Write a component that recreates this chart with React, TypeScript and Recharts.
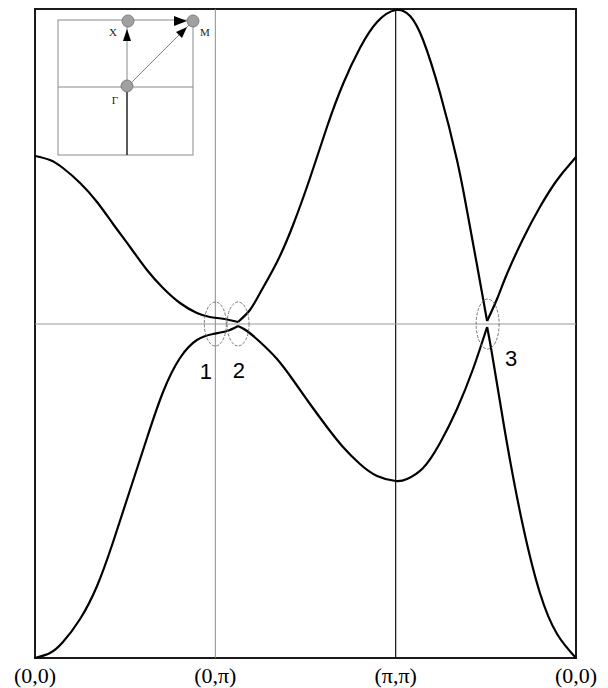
import React from "react";
import { LineChart, Line, XAxis, YAxis, ReferenceLine, ReferenceArea, ReferenceDot } from "recharts";

// k-path positions and labels
const kTicks = [0, 1, 2, 3];
const kLabels = ["(0,0)", "(0,π)", "(π,π)", "(0,0)"];
const energyDomain = [-3.34, 3.15];

// Upper band, split at its kinks
const upperA = [
  { k: 0, e: 1.68 }, { k: 0.083, e: 1.64 }, { k: 0.155, e: 1.56 }, { k: 0.25, e: 1.41 },
  { k: 0.344, e: 1.22 }, { k: 0.433, e: 1.0 }, { k: 0.527, e: 0.77 }, { k: 0.621, e: 0.54 },
  { k: 0.71, e: 0.36 }, { k: 0.804, e: 0.21 }, { k: 0.898, e: 0.11 }, { k: 0.97, e: 0.07 },
  { k: 1.05, e: 0.05 }, { k: 1.126, e: 0.02 },
];
const upperB = [
  { k: 1.126, e: 0.02 }, { k: 1.192, e: 0.14 }, { k: 1.248, e: 0.31 }, { k: 1.342, e: 0.62 },
  { k: 1.431, e: 0.99 }, { k: 1.525, e: 1.46 }, { k: 1.619, e: 1.97 }, { k: 1.708, e: 2.4 },
  { k: 1.802, e: 2.76 }, { k: 1.897, e: 3.02 }, { k: 2.0, e: 3.14 }, { k: 2.08, e: 3.08 },
  { k: 2.152, e: 2.84 }, { k: 2.246, e: 2.31 }, { k: 2.34, e: 1.64 }, { k: 2.396, e: 1.13 },
  { k: 2.451, e: 0.59 }, { k: 2.507, e: 0.03 },
];
const upperC = [
  { k: 2.507, e: 0.03 }, { k: 2.562, e: 0.25 }, { k: 2.617, e: 0.5 }, { k: 2.706, e: 0.85 },
  { k: 2.8, e: 1.17 }, { k: 2.895, e: 1.44 }, { k: 2.967, e: 1.6 }, { k: 3.0, e: 1.67 },
];

// Lower band, split at its kinks
const lowerA = [
  { k: 0, e: -3.34 }, { k: 0.083, e: -3.29 }, { k: 0.155, e: -3.18 }, { k: 0.25, e: -2.95 },
  { k: 0.344, e: -2.62 }, { k: 0.433, e: -2.18 }, { k: 0.527, e: -1.66 }, { k: 0.621, e: -1.14 },
  { k: 0.71, e: -0.68 }, { k: 0.804, e: -0.34 }, { k: 0.898, e: -0.16 }, { k: 0.987, e: -0.1 },
  { k: 1.065, e: -0.07 }, { k: 1.126, e: -0.02 },
];
const lowerB = [
  { k: 1.126, e: -0.02 }, { k: 1.176, e: -0.07 }, { k: 1.248, e: -0.18 }, { k: 1.342, e: -0.35 },
  { k: 1.431, e: -0.56 }, { k: 1.525, e: -0.8 }, { k: 1.619, e: -1.03 }, { k: 1.708, e: -1.23 },
  { k: 1.802, e: -1.4 }, { k: 1.897, e: -1.52 }, { k: 2.0, e: -1.57 }, { k: 2.063, e: -1.55 },
  { k: 2.152, e: -1.44 }, { k: 2.246, e: -1.19 }, { k: 2.34, e: -0.85 }, { k: 2.429, e: -0.45 },
  { k: 2.507, e: -0.03 },
];
const lowerC = [
  { k: 2.507, e: -0.03 }, { k: 2.54, e: -0.36 }, { k: 2.617, e: -1.19 }, { k: 2.706, e: -2.02 },
  { k: 2.8, e: -2.69 }, { k: 2.895, e: -3.1 }, { k: 3.0, e: -3.34 },
];

const segments = [upperA, upperB, upperC, lowerA, lowerB, lowerC];

// Crossing markers
const crossings = [
  { id: "1", k: 1.0, e: 0, rx: 11, ry: 22, lk: 0.948, le: -0.47 },
  { id: "2", k: 1.126, e: 0, rx: 11, ry: 22, lk: 1.131, le: -0.46 },
  { id: "3", k: 2.51, e: 0, rx: 11.5, ry: 25, lk: 2.64, le: -0.34 },
];

const serif = "'Liberation Serif', 'Times New Roman', serif";
const sans = "'Liberation Sans', Arial, sans-serif";

const KTick = (props: any) => {
  const { x, y, payload } = props;
  const idx = kTicks.indexOf(payload.value);
  return (
    <text x={x} y={y + 25} textAnchor="middle" fontFamily={serif} fontSize={22} fill="#000">
      {kLabels[idx]}
    </text>
  );
};

const Inset = () => {
  const gray = "#8a8a8a";
  return (
    <svg width={608} height={688} style={{ position: "absolute", left: 0, top: 0, pointerEvents: "none" }}>
      <rect x={58} y={20} width={135} height={135} fill="none" stroke={gray} strokeWidth={1} />
      <line x1={58} y1={87} x2={193} y2={87} stroke={gray} strokeWidth={1} />
      <line x1={127} y1={22} x2={127} y2={87} stroke={gray} strokeWidth={1} />
      <line x1={127} y1={87} x2={127} y2={155} stroke="#000" strokeWidth={1.3} />
      <line x1={127} y1={87} x2={193} y2={21} stroke={gray} strokeWidth={1} />
      {/* arrowheads */}
      <polygon points="127,29 123,41 131,41" fill="#000" />
      <polygon points="187,21 174,16 174,26" fill="#000" />
      <polygon points="187,27 176,32 182,38" fill="#000" />
      <circle cx={128} cy={21} r={6} fill="#a0a0a0" stroke="#6e6e6e" strokeWidth={0.8} />
      <circle cx={193} cy={21} r={6} fill="#a0a0a0" stroke="#6e6e6e" strokeWidth={0.8} />
      <circle cx={127} cy={86} r={6} fill="#a0a0a0" stroke="#6e6e6e" strokeWidth={0.8} />
      <text x={113} y={36} textAnchor="middle" fontFamily={serif} fontSize={11} fill="#222">X</text>
      <text x={205} y={36} textAnchor="middle" fontFamily={serif} fontSize={11} fill="#222">M</text>
      <text x={115} y={104} textAnchor="middle" fontFamily={serif} fontSize={11} fill="#222">Γ</text>
    </svg>
  );
};

export default function App() {
  return (
    <div style={{ position: "absolute", left: 0, top: 0, width: 608, height: 688, background: "#fff" }}>
      <LineChart width={608} height={688} margin={{ top: 9, right: 32, left: 35, bottom: 0 }}>
        <XAxis
          type="number"
          dataKey="k"
          domain={[0, 3]}
          ticks={kTicks}
          height={30}
          axisLine={false}
          tickLine={false}
          tickSize={0}
          tickMargin={0}
          tick={<KTick />}
          allowDuplicatedCategory={false}
        />
        <YAxis type="number" dataKey="e" domain={energyDomain} hide />
        <ReferenceLine x={1} stroke="#8c8c8c" strokeWidth={1} />
        <ReferenceLine x={2} stroke="#111" strokeWidth={1.2} />
        <ReferenceLine y={0} stroke="#999" strokeWidth={1} />
        <ReferenceArea
          x1={0}
          x2={3}
          y1={energyDomain[0]}
          y2={energyDomain[1]}
          fill="none"
          fillOpacity={0}
          stroke="#1a1a1a"
          strokeWidth={2}
        />
        {segments.map((seg, i) => (
          <Line
            key={i}
            data={seg}
            dataKey="e"
            type="natural"
            stroke="#000"
            strokeWidth={2.2}
            dot={false}
            activeDot={false}
            isAnimationActive={false}
          />
        ))}
        {crossings.map((c) => (
          <ReferenceDot
            key={"el" + c.id}
            x={c.k}
            y={c.e}
            r={1}
            shape={(p: any) => (
              <ellipse cx={p.cx} cy={p.cy} rx={c.rx} ry={c.ry} fill="none" stroke="#6a6a6a" strokeWidth={0.9} strokeDasharray="3 1.5" />
            )}
          />
        ))}
        {crossings.map((c) => (
          <ReferenceDot
            key={"lb" + c.id}
            x={c.lk}
            y={c.le}
            r={1}
            shape={(p: any) => (
              <text x={p.cx} y={p.cy + 8} textAnchor="middle" fontFamily={sans} fontSize={22} fill="#000">
                {c.id}
              </text>
            )}
          />
        ))}
      </LineChart>
      <Inset />
    </div>
  );
}
